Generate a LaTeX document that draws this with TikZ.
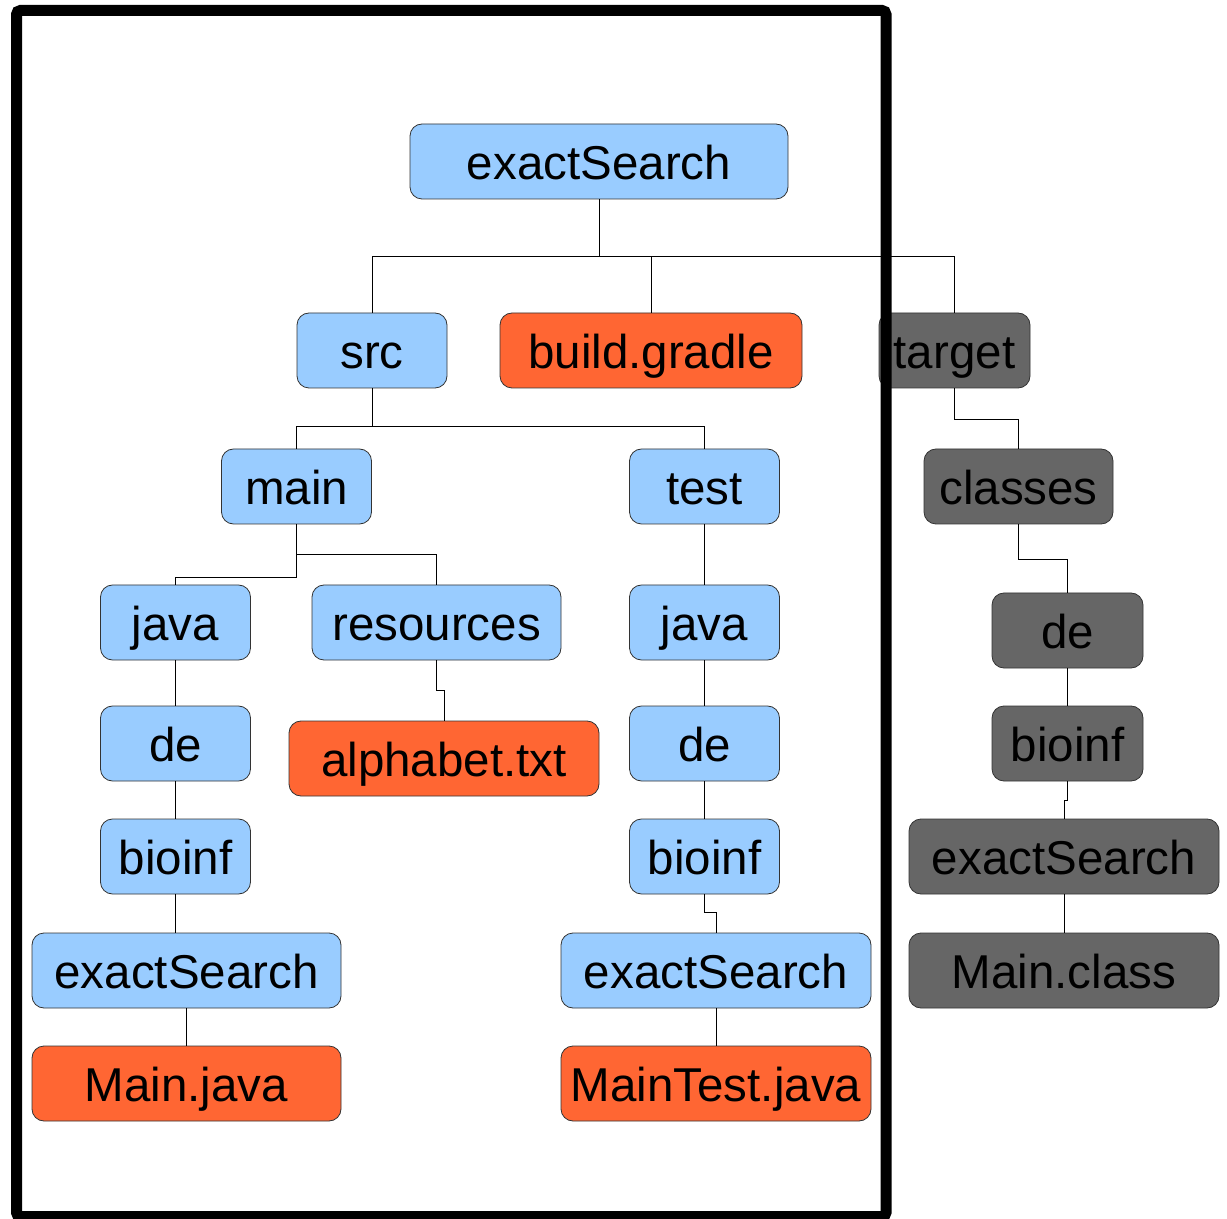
\documentclass[tikz,border=0pt]{standalone}
\usepackage{fontspec}
\setmainfont{Liberation Sans}
\definecolor{dirblue}{HTML}{99CCFF}
\definecolor{fileorange}{HTML}{FF6633}
\definecolor{outgray}{HTML}{666666}

\begin{document}
\begin{tikzpicture}[x=0.5pt,y=-0.5pt,
   box/.style={draw=black!80,rounded corners=6pt,minimum height=37.5pt,inner sep=0pt,
     text height=17.6pt,text depth=0pt,font=\fontsize{23.75}{28}\selectfont},
   dir/.style={box,fill=dirblue},
   file/.style={box,fill=fileorange},
   build/.style={box,fill=outgray},
   fork/.style={to path={(\tikztostart) -- ++(0,#1) -| (\tikztotarget)}},
   link/.style={black,line width=0.5pt}]
   \useasboundingbox (0,0) rectangle (1227,1219);
   % source tree
   \node[dir,minimum width=189pt] (root) at (599,161.5) {exactSearch};
   \node[dir,minimum width=75pt] (src) at (372,350.5) {src};
   \node[file,minimum width=151pt] (gradle) at (651,350.5) {build.gradle};
   \node[dir,minimum width=75pt] (main) at (296.5,486.5) {main};
   \node[dir,minimum width=75pt] (test) at (704.5,486.5) {test};
   \node[dir,minimum width=75pt] (ljava) at (175.5,622.5) {java};
   \node[dir,minimum width=124.5pt] (res) at (436.5,622.5) {resources};
   \node[dir,minimum width=75pt] (tjava) at (704.5,622.5) {java};
   \node[dir,minimum width=75pt] (lde) at (175.5,743.5) {de};
   \node[file,minimum width=155pt] (alpha) at (444,758.5) {alphabet.txt};
   \node[dir,minimum width=75pt] (tde) at (704.5,743.5) {de};
   \node[dir,minimum width=75pt] (lbio) at (175.5,856.5) {bioinf};
   \node[dir,minimum width=75pt] (tbio) at (704.5,856.5) {bioinf};
   \node[dir,minimum width=154.5pt] (lsearch) at (186.5,970.5) {exactSearch};
   \node[dir,minimum width=155pt] (tsearch) at (716,970.5) {exactSearch};
   \node[file,minimum width=154.5pt] (mainjava) at (186.5,1083.5) {Main.java};
   \node[file,minimum width=155pt] (maintest) at (716,1083.5) {MainTest.java};
   % build output
   \node[build,minimum width=75.5pt] (target) at (954.5,350.5) {target};
   \node[build,minimum width=94.5pt] (classes) at (1018.5,486.5) {classes};
   \node[build,minimum width=75.5pt] (cde) at (1067.5,630.5) {de};
   \node[build,minimum width=75.5pt] (cbio) at (1067.5,743.5) {bioinf};
   \node[build,minimum width=155pt] (csearch) at (1064,856.5) {exactSearch};
   \node[build,minimum width=155pt] (cmain) at (1064,970.5) {Main.class};
   % connectors
   \draw[link] (root.south) to[fork=57] (src.north);
   \draw[link] (root.south) to[fork=57] (gradle.north);
   \draw[link] (root.south) to[fork=57] (target.north);
   \draw[link] (src.south) to[fork=38] (main.north);
   \draw[link] (src.south) to[fork=38] (test.north);
   \draw[link] (main.south) to[fork=53] (ljava.north);
   \draw[link] (main.south) to[fork=30] (res.north);
   \draw[link] (test.south) -- (tjava.north);
   \draw[link] (ljava.south) -- (lde.north);
   \draw[link] (lde.south) -- (lbio.north);
   \draw[link] (lbio.south) -- (lbio.south |- lsearch.north);
   \draw[link] (lsearch.south) -- (mainjava.north);
   \draw[link] (res.south) to[fork=30] (alpha.north);
   \draw[link] (tjava.south) -- (tde.north);
   \draw[link] (tde.south) -- (tbio.north);
   \draw[link] (tbio.south) to[fork=18] (tsearch.north);
   \draw[link] (tsearch.south) -- (maintest.north);
   \draw[link] (target.south) to[fork=31] (classes.north);
   \draw[link] (classes.south) to[fork=35] (cde.north);
   \draw[link] (cde.south) -- (cbio.north);
   \draw[link] (cbio.south) to[fork=19] (csearch.north);
   \draw[link] (csearch.south) -- (cmain.north);
   % frame
   \draw[line width=5.5pt,rounded corners=2pt] (16.5,10.5) rectangle (886,1216.5);
\end{tikzpicture}
\end{document}
